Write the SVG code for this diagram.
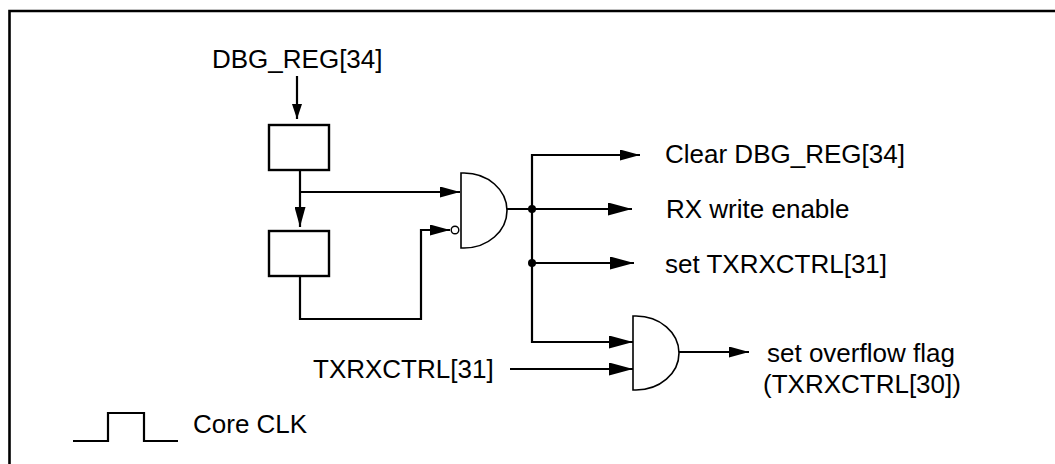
<svg xmlns="http://www.w3.org/2000/svg" width="1055" height="464" viewBox="0 0 1055 464">
<style>
text{font-family:"Liberation Sans",Arial,sans-serif;font-size:26px;fill:#000}
.w{fill:none;stroke:#000;stroke-width:2.2}
.box{fill:#fff;stroke:#000;stroke-width:2.4}
.gate{fill:#fff;stroke:#000;stroke-width:1.6}
.frame{fill:none;stroke:#000;stroke-width:2.6}
</style>
<defs>
<marker id="ah" markerUnits="userSpaceOnUse" markerWidth="20" markerHeight="11" refX="20" refY="5.5" orient="auto" viewBox="0 0 20 11">
<path d="M0,0 L20,5.5 L0,11 Z" fill="#000"/>
</marker>
<marker id="ahs" markerUnits="userSpaceOnUse" markerWidth="15" markerHeight="10" refX="15" refY="5" orient="auto" viewBox="0 0 15 10">
<path d="M0,0 L15,5 L0,10 Z" fill="#000"/>
</marker>
<marker id="ahl" markerUnits="userSpaceOnUse" markerWidth="24" markerHeight="13" refX="24" refY="6.5" orient="auto" viewBox="0 0 24 13">
<path d="M0,0 L24,6.5 L0,13 Z" fill="#000"/>
</marker>
</defs>
<rect width="1055" height="464" fill="#fff"/>
<path class="frame" d="M9.5,470 V11 H1060"/>

<g id="connectors">
<path class="w" d="M297,76 V119" marker-end="url(#ahs)"/>
<path class="w" d="M300,170 V227" marker-end="url(#ah)"/>
<path class="w" d="M300,192 H460" marker-end="url(#ah)"/>
<path class="w" d="M300,276 V319 H421 V230 H450" marker-end="url(#ah)"/>
<path class="w" d="M507,209 H632" marker-end="url(#ahl)"/>
<path class="w" d="M532,209 V155 H640" marker-end="url(#ah)"/>
<path class="w" d="M532,209 V342 H633" marker-end="url(#ahl)"/>
<path class="w" d="M532,263 H634" marker-end="url(#ahl)"/>
<path class="w" d="M510,369 H633" marker-end="url(#ahl)"/>
<path class="w" d="M679,352 H749" marker-end="url(#ah)"/>
<circle cx="532" cy="209" r="4" fill="#000"/>
<circle cx="532" cy="263" r="4" fill="#000"/>
</g>

<g id="dbg_reg_label"><text x="212" y="68">DBG_REG[34]</text></g>
<g id="reg1"><rect class="box" x="269" y="125" width="60" height="45"/></g>
<g id="reg2"><rect class="box" x="269" y="231" width="60" height="45"/></g>

<g id="and1">
<path class="gate" d="M461,173 H464 A43,37.5 0 0 1 464,248 H461 Z"/>
<circle cx="455" cy="230" r="3.8" fill="#fff" stroke="#000" stroke-width="1.4"/>
</g>

<g id="and2">
<path class="gate" d="M633,316 H636 A43,37 0 0 1 636,390 H633 Z"/>
</g>

<g id="out_clear"><text x="665" y="163">Clear DBG_REG[34]</text></g>
<g id="out_rx"><text x="666" y="218">RX write enable</text></g>
<g id="out_set"><text x="665" y="273">set TXRXCTRL[31]</text></g>
<g id="in_txrx"><text x="313" y="378">TXRXCTRL[31]</text></g>
<g id="out_overflow">
<text x="767" y="362">set overflow flag</text>
<text x="763" y="393">(TXRXCTRL[30])</text>
</g>

<g id="clock">
<path class="w" d="M73,441 H108 V413 H144 V441 H178"/>
<text x="193" y="433">Core CLK</text>
</g>
</svg>
